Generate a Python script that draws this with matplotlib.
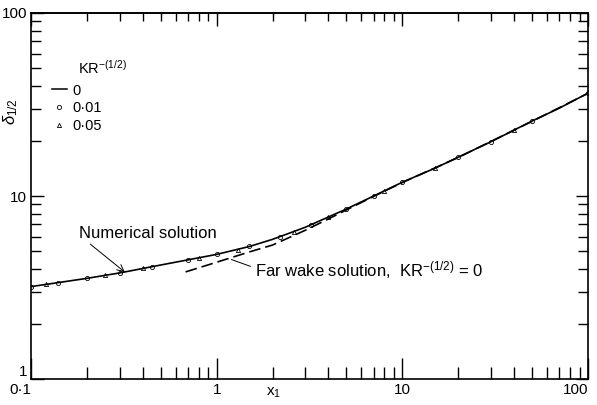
"""Half-width growth of the wake, delta_1/2 against x_1 (log-log)."""

import matplotlib

matplotlib.use("Agg")
import matplotlib.pyplot as plt
from matplotlib.lines import Line2D
from matplotlib.ticker import FixedLocator, LogLocator, NullFormatter

plt.rcParams["font.family"] = ["Liberation Sans", "DejaVu Sans"]
plt.rcParams["mathtext.fontset"] = "custom"
plt.rcParams["mathtext.rm"] = "Liberation Sans"
plt.rcParams["mathtext.it"] = "Liberation Sans:italic"

# numerical solution, KR^-(1/2) = 0
x_num = [0.1, 0.15, 0.2, 0.3, 0.5, 0.7, 1, 1.5, 2, 3, 5, 7, 10, 15, 20, 30, 50, 70, 100]
y_num = [3.2, 3.4, 3.55, 3.8, 4.2, 4.48, 4.8, 5.3, 5.8, 6.75, 8.5, 10.0, 11.9,
         14.2, 16.3, 19.8, 25.7, 30.2, 36.5]

# far wake solution, KR^-(1/2) = 0
x_far = [0.68, 1, 1.5, 2, 3, 4, 5, 7, 10, 20, 50, 100]
y_far = [3.85, 4.35, 4.95, 5.4, 6.5, 7.5, 8.4, 9.95, 11.85, 16.25, 25.6, 36.4]

# KR^-(1/2) = 0.01
x_c = [0.1, 0.14, 0.2, 0.3, 0.45, 0.7, 1, 1.5, 2.2, 3.2, 5, 7, 10, 20, 30, 50, 100]
y_c = [3.2, 3.35, 3.55, 3.8, 4.12, 4.48, 4.8, 5.3, 6.0, 6.95, 8.5, 10.0, 11.9,
       16.3, 19.8, 25.7, 36.5]

# KR^-(1/2) = 0.05
x_t = [0.12, 0.25, 0.4, 0.8, 1.3, 2.6, 4, 8, 15, 40, 100]
y_t = [3.3, 3.7, 4.05, 4.6, 5.1, 6.4, 7.65, 10.6, 14.2, 23.0, 36.8]

x_ticks = [0.1, 1, 10, 100]
x_labels = ["0·1", "1", "10", "100"]
y_ticks = [1, 10, 100]
y_labels = ["1", "10", "100"]

fig = plt.figure(figsize=(5.97, 4.05), dpi=100)
ax = fig.add_axes([0.052, 0.064, 0.933, 0.904])

ax.plot(x_num, y_num, color="black", lw=1.2)
ax.plot(x_far, y_far, color="black", lw=1.2, dashes=(7, 3))
ax.plot(x_c, y_c, ls="none", marker="o", ms=3, mfc="none", mec="black", mew=0.6)
ax.plot(x_t, y_t, ls="none", marker="^", ms=3, mfc="none", mec="black", mew=0.6)

ax.set_xscale("log")
ax.set_yscale("log")
ax.set_xlim(0.1, 100)
ax.set_ylim(1, 100)

ax.xaxis.set_major_locator(FixedLocator(x_ticks))
ax.set_xticklabels(x_labels)
ax.yaxis.set_major_locator(FixedLocator(y_ticks))
ax.set_yticklabels(y_labels)
for axis in (ax.xaxis, ax.yaxis):
    axis.set_minor_locator(LogLocator(base=10, subs=range(2, 10)))
    axis.set_minor_formatter(NullFormatter())

ax.tick_params(which="both", direction="in", right=True, labelsize=11,
               width=1.0, color="black", pad=3)
ax.tick_params(axis="x", which="major", length=15)
ax.tick_params(axis="x", which="minor", length=9)
ax.tick_params(axis="y", which="major", length=9)
ax.tick_params(axis="y", which="minor", length=7)
xl = ax.get_xticklabels()
xl[0].set_ha("right")
xl[-1].set_ha("right")
ax.get_yticklabels()[0].set_va("bottom")

# shorter ticks along the top edge
top = ax.secondary_xaxis("top")
top.xaxis.set_major_locator(FixedLocator(x_ticks))
top.xaxis.set_minor_locator(LogLocator(base=10, subs=range(2, 10)))
top.xaxis.set_minor_formatter(NullFormatter())
top.tick_params(which="both", direction="in", labeltop=False, width=1.0)
top.tick_params(which="major", length=9)
top.tick_params(which="minor", length=6)

for sp in ax.spines.values():
    sp.set_linewidth(1.2)
top.spines["top"].set_linewidth(1.2)

ax.set_xlabel("x$_1$", fontsize=11)
ax.xaxis.set_label_coords(0.435, -0.018)
ax.set_ylabel(r"$\delta_{1/2}$", fontsize=12)
ax.yaxis.set_label_coords(-0.02, 0.73)

# legend
ax.text(0.085, 0.835, "KR$^{-(1/2)}$", transform=ax.transAxes, fontsize=10.5)
handles = [
    Line2D([], [], color="black", lw=1.1),
    Line2D([], [], ls="none", marker="o", ms=3, mfc="none", mec="black", mew=0.6),
    Line2D([], [], ls="none", marker="^", ms=3, mfc="none", mec="black", mew=0.6),
]
ax.legend(handles, ["0", "0·01", "0·05"], loc="upper left",
          bbox_to_anchor=(0.014, 0.843), frameon=False, fontsize=10.5,
          handlelength=1.0, handletextpad=0.4, labelspacing=0.25)

# annotations
ax.annotate("Numerical solution", xy=(0.32, 3.84), xytext=(0.181, 6.28),
            fontsize=12, va="center",
            arrowprops=dict(arrowstyle="->", lw=0.7, color="black",
                            relpos=(0.05, 0.0), shrinkA=1, shrinkB=0))
ax.annotate("Far wake solution,  KR$^{-(1/2)}$ = 0", xy=(1.2, 4.5), xytext=(1.6, 3.94),
            fontsize=12, va="center",
            arrowprops=dict(arrowstyle="-", lw=0.7, color="black",
                            relpos=(0.0, 0.6), shrinkA=1, shrinkB=0))

fig.savefig("out.png", dpi=100)
